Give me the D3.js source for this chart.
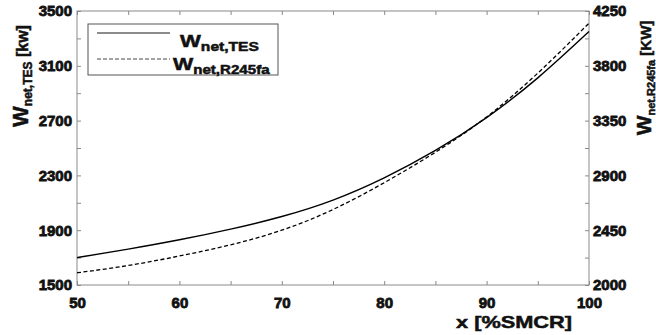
<!DOCTYPE html>
<html>
<head>
  <meta charset="utf-8">
  <title>Wnet TES vs R245fa</title>
  <script src="https://d3js.org/d3.v7.min.js"></script>
  <style>
    body { margin: 0; background: #fff; }
    svg text { font-family: "Liberation Sans", Arial, sans-serif; font-weight: bold; fill: #111; stroke: #111; stroke-width: 0.5px; }
    svg .tick text { font-size: 15px; font-weight: bold; stroke-width: 0.8px; }
  </style>
</head>
<body>
  <script>
    // data
    var xVals = [50, 55, 60, 65, 70, 75, 80, 85, 90, 95, 100];
    var wTES = [1700, 1762, 1830, 1908, 2000, 2120, 2282, 2482, 2722, 3012, 3350];
    var wR245fa = [2100, 2160, 2238, 2330, 2450, 2620, 2840, 3090, 3380, 3740, 4150];

    var xTicks = [50, 60, 70, 80, 90, 100];
    var yLeftTicks = [1500, 1900, 2300, 2700, 3100, 3500];
    var yRightTicks = [2000, 2450, 2900, 3350, 3800, 4250];

    var W = 656, H = 335;
    var margin = {top: 11, right: 67, bottom: 50, left: 77},
        width = W - margin.left - margin.right,
        height = H - margin.top - margin.bottom;

    var x = d3.scaleLinear().domain([50, 100]).range([0, width]);
    var yL = d3.scaleLinear().domain([1500, 3500]).range([height, 0]);
    var yR = d3.scaleLinear().domain([2000, 4250]).range([height, 0]);

    var svg = d3.select("body").append("svg")
        .attr("width", W)
        .attr("height", H);
    var g = svg.append("g")
        .attr("transform", "translate(" + margin.left + "," + margin.top + ")");

    var axisColor = "#8a8a8a";

    // minor + major ticks, pointing in
    function styleAxis(sel) {
      sel.select(".domain").remove();
      sel.attr("font-family", null).attr("font-size", null);
      sel.selectAll(".tick line").attr("stroke", axisColor);
    }

    var xMinor = d3.range(50, 101, 5);
    var bottomAxis = g.append("g").attr("transform", "translate(0," + height + ")")
        .call(d3.axisBottom(x).tickValues(xMinor).tickSizeInner(-4).tickPadding(10)
          .tickFormat(d => xTicks.indexOf(d) >= 0 ? d : ""));
    styleAxis(bottomAxis);
    bottomAxis.selectAll(".tick text").attr("dy", "0.85em");

    var topAxis = g.append("g")
        .call(d3.axisTop(x).tickValues(xMinor).tickSizeInner(-4).tickFormat(""));
    styleAxis(topAxis);

    var yLMinor = d3.range(1500, 3501, 200);
    var leftAxis = g.append("g")
        .call(d3.axisLeft(yL).tickValues(yLMinor).tickSizeInner(-4).tickPadding(5)
          .tickFormat(d => yLeftTicks.indexOf(d) >= 0 ? d : ""));
    styleAxis(leftAxis);

    var yRMinor = d3.range(2000, 4251, 225);
    var rightAxis = g.append("g").attr("transform", "translate(" + width + ",0)")
        .call(d3.axisRight(yR).tickValues(yRMinor).tickSizeInner(-4).tickPadding(4)
          .tickFormat(d => yRightTicks.indexOf(d) >= 0 ? d : ""));
    styleAxis(rightAxis);

    // frame
    g.append("rect")
        .attr("width", width).attr("height", height)
        .attr("fill", "none").attr("stroke", axisColor).attr("stroke-width", 1);

    // curves
    var tesLine = d3.line()
        .x((d, i) => x(xVals[i]))
        .y(d => yL(d))
        .curve(d3.curveNatural);
    var rLine = d3.line()
        .x((d, i) => x(xVals[i]))
        .y(d => yR(d))
        .curve(d3.curveNatural);

    g.append("path").datum(wTES)
        .attr("d", tesLine)
        .attr("fill", "none").attr("stroke", "#000").attr("stroke-width", 1.4);
    g.append("path").datum(wR245fa)
        .attr("d", rLine)
        .attr("fill", "none").attr("stroke", "#000").attr("stroke-width", 1.3)
        .attr("stroke-dasharray", "4,2.5");

    // legend
    var leg = svg.append("g").attr("transform", "translate(88,24)");
    leg.append("rect").attr("width", 190).attr("height", 51)
        .attr("fill", "#fff").attr("stroke", "#555").attr("stroke-width", 1);
    leg.append("line").attr("x1", 9).attr("x2", 82).attr("y1", 9).attr("y2", 9)
        .attr("stroke", "#666").attr("stroke-width", 1.6);
    leg.append("line").attr("x1", 9).attr("x2", 82).attr("y1", 35).attr("y2", 35)
        .attr("stroke", "#444").attr("stroke-width", 1).attr("stroke-dasharray", "4,2");

    function subLabel(parent, xPos, yPos, main, sub, mainSize, subSize, sx) {
      var t = parent.append("text")
          .attr("transform", "translate(" + xPos + "," + yPos + ") scale(" + sx + ",1)");
      t.append("tspan").style("font-size", mainSize + "px").text(main);
      t.append("tspan").style("font-size", subSize + "px").attr("dy", 4).text(sub);
      return t;
    }
    subLabel(leg, 92, 23, "W", "net,TES", 17, 12, 1.3);
    subLabel(leg, 85, 46, "W", "net,R245fa", 17, 12, 1.26);

    // axis titles
    var lt = svg.append("text")
        .attr("transform", "translate(28,76) rotate(-90)")
        .attr("text-anchor", "middle");
    lt.append("tspan").style("font-size", "22px").text("W");
    lt.append("tspan").style("font-size", "12px").attr("dy", 4).text("net,TES");
    lt.append("tspan").style("font-size", "16px").attr("dy", -4).text(" [kw]");

    var rt = svg.append("text")
        .attr("transform", "translate(651,78) rotate(-90)")
        .attr("text-anchor", "middle");
    rt.append("tspan").style("font-size", "21px").text("W");
    rt.append("tspan").style("font-size", "11px").attr("dy", 4).text("net.R245fa");
    rt.append("tspan").style("font-size", "15px").attr("dy", -4).text(" [KW]");

    svg.append("text")
        .attr("x", 456).attr("y", 328)
        .attr("textLength", 116)
        .attr("lengthAdjust", "spacingAndGlyphs")
        .style("font-size", "17px")
        .text("x  [%SMCR]");
  </script>
</body>
</html>
